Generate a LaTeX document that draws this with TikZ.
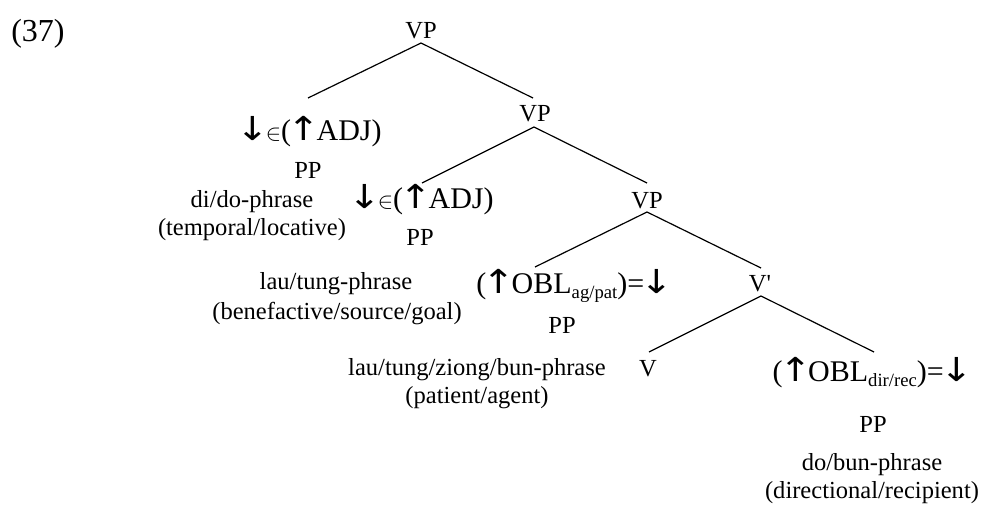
\documentclass[tikz,border=0pt]{standalone}
\usepackage{fontspec}
\usepackage{graphicx}
\setmainfont{Liberation Serif}
\newfontfamily\rawserif{Liberation Serif}
\newfontfamily\arrowfont{DejaVu Sans}
\newcommand\elemsym{{\fontsize{18.5pt}{18.5pt}\selectfont$\in$}}
\newcommand\upar{\kern-0.12em\scalebox{1.3}[1.1]{\arrowfont ↑}\kern-0.12em}
\newcommand\downar{\kern-0.12em\scalebox{1.3}[1.1]{\arrowfont ↓}\kern-0.12em}
\newcommand\sublow[1]{\raisebox{-4pt}{\fontsize{14pt}{14pt}\selectfont #1}}
\tikzset{
  lbl/.style={anchor=base, inner sep=0pt, outer sep=0pt, font=\fontsize{18.4pt}{22pt}\selectfont},
  big/.style={anchor=base, inner sep=0pt, outer sep=0pt, font=\fontsize{22.5pt}{26pt}\selectfont},
  branch/.style={line width=0.9pt},
}
\begin{document}
\begin{tikzpicture}[x=0.75pt,y=-0.75pt]
\useasboundingbox (0,0) rectangle (982,507);
\node[big, font=\fontsize{24pt}{28pt}\selectfont] (ex) at (38,41) {(37)};
\node[lbl] (vp1) at (421,38) {VP};
\node[big] (adj1) at (311,140) {\downar\elemsym(\upar ADJ)};
\node[lbl] (pp1) at (308,178) {PP};
\node[lbl] (dido) at (252,207) {di/do-phrase};
\node[lbl] (templ) at (252,235) {(temporal/locative)};
\node[lbl] (vp2) at (535,121) {VP};
\node[big] (adj2) at (423,208) {\downar\elemsym(\upar ADJ)};
\node[lbl] (pp2) at (420,245) {PP};
\node[lbl] (lautung) at (336,289) {lau/tung-phrase};
\node[lbl] (bensg) at (337,319) {(benefactive/source/goal)};
\node[lbl] (vp3) at (647,208) {VP};
\node[big] (obl1) at (573,293) {(\upar OBL\sublow{ag/pat})=\downar};
\node[lbl] (pp3) at (562,333) {PP};
\node[lbl] (ltzb) at (477,375) {lau/tung/ziong/bun-phrase};
\node[lbl] (patag) at (477,403) {(patient/agent)};
\node[lbl] (vbar) at (760,291) {\rawserif V'};
\node[lbl] (v) at (648,376) {V};
\node[big] (obl2) at (871,381) {(\upar OBL\sublow{dir/rec})=\downar};
\node[lbl] (pp4) at (873,432) {PP};
\node[lbl] (dobun) at (872,470) {do/bun-phrase};
\node[lbl] (dirrec) at (872,498) {(directional/recipient)};
\draw[branch] ([shift={(0,5)}]vp1.base) -- ([shift={(-3,-42)}]adj1.base);
\draw[branch] ([shift={(0,5)}]vp1.base) -- ([shift={(-2,-23)}]vp2.base);
\draw[branch] ([shift={(-1,6)}]vp2.base) -- ([shift={(-1,-25)}]adj2.base);
\draw[branch] ([shift={(-1,6)}]vp2.base) -- ([shift={(0,-25)}]vp3.base);
\draw[branch] ([shift={(0,4)}]vp3.base) -- ([shift={(-38,-26)}]obl1.base);
\draw[branch] ([shift={(0,4)}]vp3.base) -- ([shift={(1,-23)}]vbar.base);
\draw[branch] ([shift={(1,5)}]vbar.base) -- ([shift={(1,-24)}]v.base);
\draw[branch] ([shift={(1,5)}]vbar.base) -- ([shift={(3,-29)}]obl2.base);
\end{tikzpicture}
\end{document}
